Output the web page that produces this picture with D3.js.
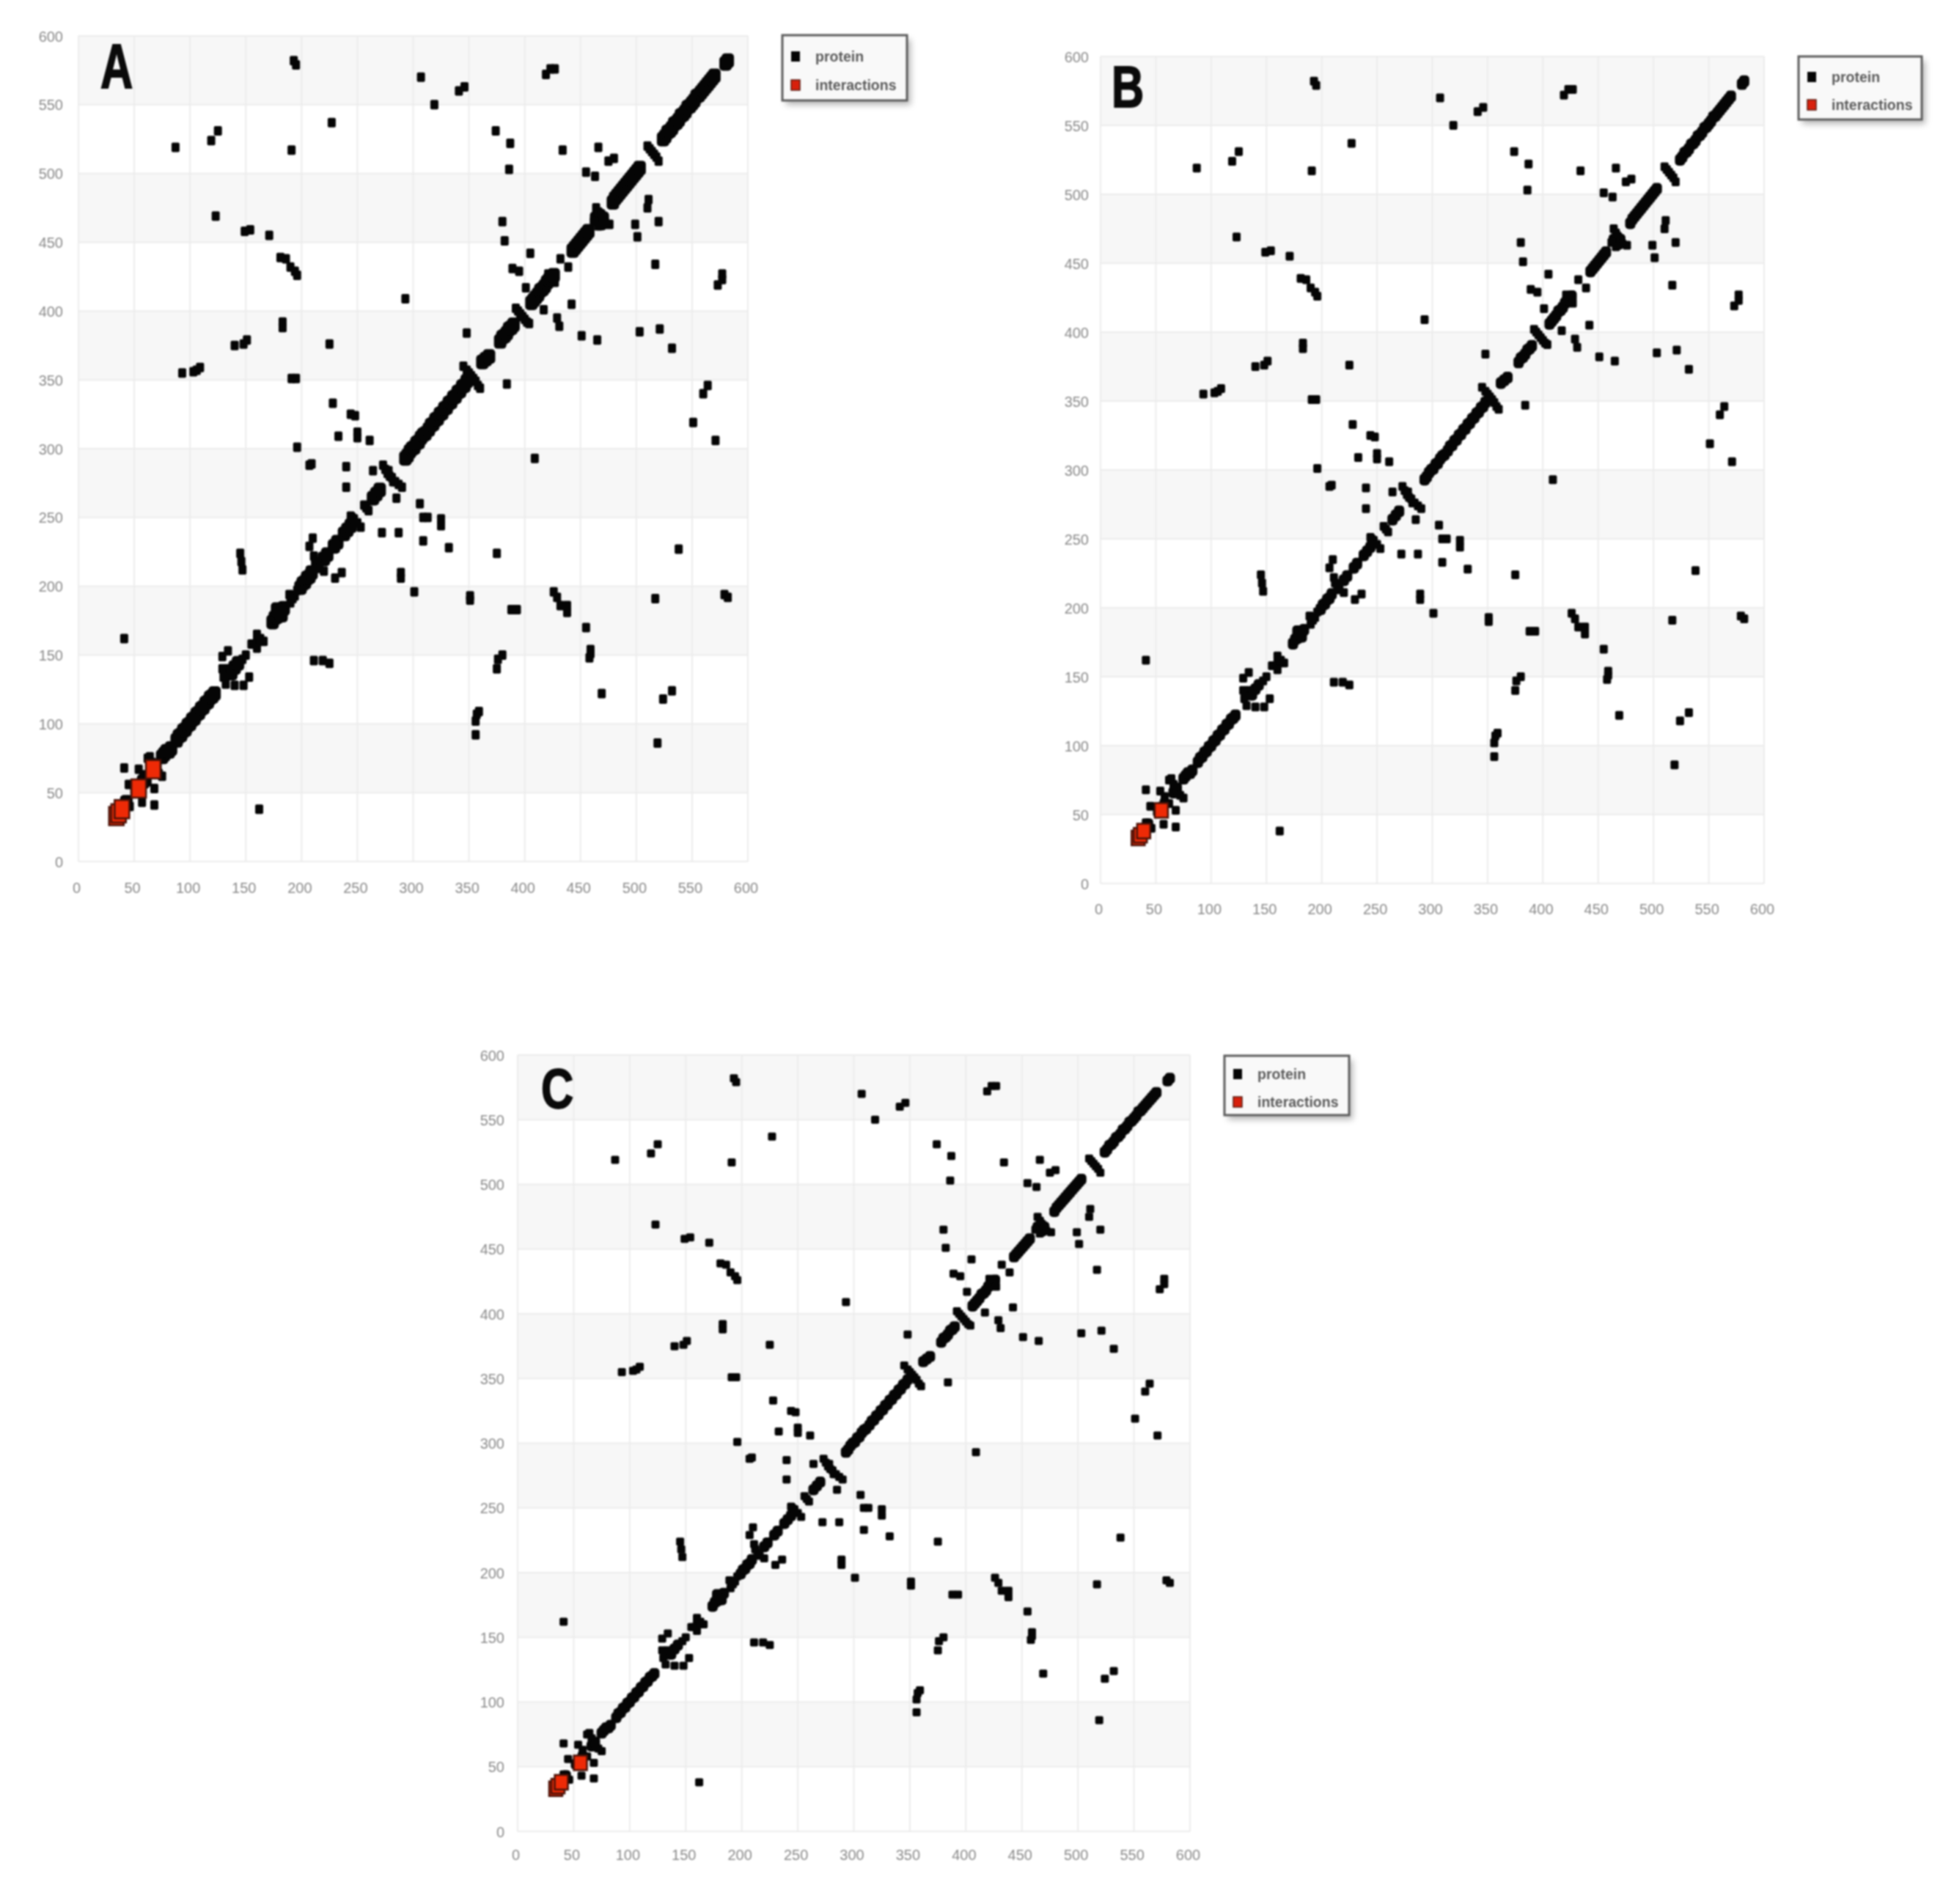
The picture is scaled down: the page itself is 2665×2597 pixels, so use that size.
<!DOCTYPE html>
<html>
<head>
<meta charset="utf-8">
<script src="https://cdn.jsdelivr.net/npm/d3@7/dist/d3.min.js"></script>
<style>
html,body{margin:0;padding:0;background:#fff}
svg{display:block;filter:blur(1px)}
text{font-family:"Liberation Sans",Arial,sans-serif}
</style>
</head>
<body>
<div id="chart"></div>
<script>
// ---- data -----------------------------------------------------------------
const tickValues = [0,50,100,150,200,250,300,350,400,450,500,550,600];
const bandStarts = [50,150,250,350,450,550];
const legendLabels = ["protein","interactions"];
const panelNames = ["A","B","C"];

// thick lumps along the main diagonal
const diagonalLow = [[37,37],[40,40],[43,43],[52,52],[55,55],[58,58],[66,66],[69,69],[75,76],[77,78],[79,80],[81,80],[83,82]];
const diagonalA = [[88,88],[90,91],[92,92],[94,95],[96,96],[98,99],[100,100],[102,103],[104,104],[106,107],[108,108],[110,111],[112,112],[114,115],[116,116],[118,119],[120,120],[122,122]];
const diagonalB = [[137,137],[140,141],[143,144],[174,174],[176,177],[178,178],[180,181],[182,182],[184,184],[178,183],[182,179],[199,199],[201,202],[203,203],[205,206],[207,207],[209,210]];
const diagonalD = [[220,220],[223,223],[229,229],[232,232],[238,238],[241,241],[244,244],[264,264],[267,267],[270,270]];
const diagonalE = [[293,293],[295,295],[297,298],[299,300],[301,301],[303,304],[305,305],[307,308],[309,310],[311,311],[314,314],[316,317],[318,318],[320,321],[322,322],[324,325],[326,326],[328,329],[330,330],[332,333],[334,334],[336,337],[338,338],[340,341],[342,342],[344,345],[346,346],[348,349],
 [362,363],[365,365],[368,367],[378,378],[380,381],[382,382],[384,384],[386,387],[388,388],[390,390]];
const diagonalF = [[406,406],[408,408],[410,410],[412,412],[414,415],[416,416],[418,418],[420,421],[422,423],[424,424],[426,426],
 [443,444],[445,446],[447,448],[449,450],[451,452],[453,454],[455,456],[457,458]];
const diagonalG = [[464,467],[467,469],[470,467],[468,464],[479,479],[481,482],[483,484],[485,486],[487,488],[489,490],[491,492],[493,494],[495,496],[497,498],[499,500],[501,502],[503,504]];
const diagonalH = [[524,525],[526,527],[528,530],[530,531],[532,533],[534,536],[536,537],[538,539],[540,542],[542,543],[544,545],[546,548],[548,549],[550,551],[552,553],[554,556],[556,557],[558,559],[560,561],[562,563],[564,565],[566,567],[568,569],[570,571],
 [580,580],[582,582]];

// thin "\" pieces crossing the diagonal and small clustered marks next to it
const crossings = [[64,76],[66,72],[69,68],[72,64],[134,140],[136,136],[147,147],[157,158],[160,160],[163,162],[160,165],[160,155],[155,158],[166,160],[190,188],[192,191],[194,193],[189,194],[196,197],
 [211,222],[212,218],[214,215],[216,213],[220,211],[244,251],[245,250],[247,249],[250,246],[253,243],[256,259],[258,257],[260,255],
 [273,288],[275,285],[277,282],[279,280],[281,279],[284,276],[287,274],[290,272],[278,284],[282,276],
 [345,360],[348,357],[350,355],[352,353],[354,351],[356,349],[358,346],[360,344],
 [392,402],[394,400],[396,398],[398,396],[400,394],[402,392],[404,391],[421,427],[427,421],
 [464,475],[466,472],[468,469],[470,466],[472,464],[476,463],[462,465],[466,462],
 [510,520],[512,518],[514,516],[516,514],[518,512],[520,509]];

const offUpperLeft = [[41,162],[41,68],[54,67],[62,75],[45,56],[41,44],[58,63],[87,519],[93,355],[103,356],[106,357],[109,359],[119,524],[125,531],[123,469],[140,375],[148,376],[151,379],[134,153],[129,149],[129,140],
 [145,224],[146,218],[147,212],[149,458],[154,459],[171,455],[181,439],[186,438],[190,432],[194,429],[196,426],[183,392],[183,388],[191,517],[191,351],[195,351],[193,582],[195,579],[196,301],[207,288],[209,289],[207,229],[210,235],
 [225,376],[227,537],[228,333],[233,309],[240,287],[240,272],[244,325],[248,324],[250,312],[250,308],[261,306],[264,284],[293,409],[307,570],[319,550],[341,560],[346,563],[348,384],[374,531],[380,465],[382,451],[386,503],[387,522],
 [389,431],[395,429],[401,417],[405,442],[419,572],[423,576],[427,576],[432,438],[434,517],[455,501],[463,498],[466,519],[475,509],[480,511]];
const offLowerRight = [[57,43],[46,40],[62,58],[68,41],[68,53],[75,62],[130,134],[132,129],[140,128],[148,128],[150,150],[153,134],[162,38],[211,146],[219,146],[225,144],[230,206],[236,210],[272,239],[285,264],[287,239],[289,206],[289,210],
 [301,196],[306,260],[309,233],[309,250],[313,250],[325,244],[325,249],[332,228],[351,190],[351,193],[356,92],[356,102],[357,107],[359,109],[375,140],[375,224],[376,147],[380,150],[384,347],[388,183],[393,183],[409,293],
 [417,401],[426,196],[429,192],[429,395],[431,389],[432,186],[438,181],[438,186],[439,432],[442,405],[451,382],[455,170],[458,148],[459,151],[459,154],[465,379],[469,122],[499,463],[501,454],[503,385],[510,475],[511,481],[517,191],[517,434],[519,86],[520,465],[521,387],[524,118],[532,124],[532,373],[538,227],[551,319],[560,340],[564,346],[571,306],[573,419],[577,423],[577,427],[579,194],[582,192]];

const interactionsA = [[34,33],[36,35],[39,38],[54,53],[67,67]];
const interactionsB = [[34,33],[36,35],[39,38],[55,53]];
const interactionsC = [[34,33],[36,35],[39,38],[56,53]];

const lumpPoints = [diagonalLow,diagonalA,diagonalB,diagonalD,diagonalE,diagonalF,diagonalG,diagonalH].flat();
const proteinPoints = [crossings,offUpperLeft,offLowerRight].flat();
const interactionSets = [interactionsA,interactionsB,interactionsC];

// ---- layout ---------------------------------------------------------------
const W = 2665, H = 2597;
const panels = [
 {x0:107,x1:1020,y0:1175,y1:49, mw:11,mh:13,dw:17,dh:20,rw:20,rh:25, labelRight:86, xLab:1211,
  letter:{x:159,y:120,sx:0.72,sy:1.0,fs:85},
  legend:{x:1067,y:48,w:170,h:89,sym:1085,y1:77,y2:116,text:1112}},
 {x0:1501,x1:2406,y0:1205,y1:77, mw:11,mh:12,dw:14,dh:16,rw:18,rh:20, labelRight:1485, xLab:1240,
  letter:{x:1516,y:146,sx:0.72,sy:0.93,fs:85},
  legend:{x:2453,y:77,w:168,h:86,sym:2471,y1:105,y2:143,text:2498}},
 {x0:706,x1:1623,y0:2498,y1:1439, mw:11,mh:11,dw:14,dh:15,rw:18,rh:20, labelRight:688, xLab:2530,
  letter:{x:738,y:1511,sx:0.72,sy:0.9,fs:85},
  legend:{x:1670,y:1440,w:170,h:81,sym:1688,y1:1465,y2:1503,text:1715}}
];

const svg = d3.select("#chart").append("svg").attr("width",W).attr("height",H);
svg.append("rect").attr("width",W).attr("height",H).attr("fill","#fff");
const defs = svg.append("defs");
defs.append("filter").attr("id","shadow").attr("x","-20%").attr("y","-20%").attr("width","140%").attr("height","140%")
  .append("feGaussianBlur").attr("stdDeviation",4);

panels.forEach((p,i)=>{
  const x = d3.scaleLinear().domain([0,600]).range([p.x0,p.x1]);
  const y = d3.scaleLinear().domain([0,600]).range([p.y0,p.y1]);
  const g = svg.append("g");

  g.selectAll("rect.band").data(bandStarts).join("rect").attr("class","band")
    .attr("x",p.x0).attr("width",p.x1-p.x0)
    .attr("y",d=>y(d+50)).attr("height",d=>y(d)-y(d+50))
    .attr("fill","#f7f7f7");
  g.selectAll("line.v").data(tickValues).join("line").attr("class","v")
    .attr("x1",d=>x(d)).attr("x2",d=>x(d)).attr("y1",p.y1).attr("y2",p.y0)
    .attr("stroke","#ececec").attr("stroke-width",2);
  g.selectAll("line.h").data(tickValues).join("line").attr("class","h")
    .attr("y1",d=>y(d)).attr("y2",d=>y(d)).attr("x1",p.x0).attr("x2",p.x1)
    .attr("stroke","#ececec").attr("stroke-width",2);

  const xAxis = d3.axisBottom(x).tickValues(tickValues).tickSize(0).tickPadding(0);
  const yAxis = d3.axisLeft(y).tickValues(tickValues).tickSize(0).tickPadding(0);
  const gx = svg.append("g").attr("transform",`translate(-3,${p.xLab})`).call(xAxis);
  const gy = svg.append("g").attr("transform",`translate(${p.labelRight},0)`).call(yAxis);
  [gx,gy].forEach(a=>{
    a.select(".domain").remove();
    a.selectAll("text").attr("font-size",20).attr("fill","#8a8a8a")
      .attr("font-family",'"Liberation Sans",Arial,sans-serif');
  });
  gx.selectAll("text").attr("dy","0.35em").attr("y",0);
  gy.selectAll("text").attr("dy","0.35em").attr("x",0);

  g.selectAll("rect.lump").data(lumpPoints).join("rect").attr("class","lump")
    .attr("x",d=>x(d[0])-p.dw/2).attr("y",d=>y(d[1])-p.dh/2)
    .attr("width",p.dw).attr("height",p.dh).attr("rx",5).attr("fill","#050505");

  g.selectAll("rect.protein").data(proteinPoints).join("rect").attr("class","protein")
    .attr("x",d=>x(d[0])-p.mw/2).attr("y",d=>y(d[1])-p.mh/2)
    .attr("width",p.mw).attr("height",p.mh).attr("rx",2).attr("fill","#050505");

  g.selectAll("rect.inter").data(interactionSets[i]).join("rect").attr("class","inter")
    .attr("x",d=>x(d[0])-p.rw/2).attr("y",d=>y(d[1])-p.rh/2)
    .attr("width",p.rw).attr("height",p.rh)
    .attr("fill","#ee2a06").attr("stroke","#4a1208").attr("stroke-width",2.5);

  const L = p.letter;
  svg.append("text").text(panelNames[i])
    .attr("transform",`translate(${L.x},${L.y}) scale(${L.sx},${L.sy})`)
    .attr("font-size",L.fs).attr("font-weight","bold").attr("fill","#0a0a0a")
    .attr("stroke","#0a0a0a").attr("stroke-width",2)
    .attr("text-anchor",i===0?"middle":"start");

  const lg = p.legend;
  svg.append("rect").attr("x",lg.x+5).attr("y",lg.y+6).attr("width",lg.w).attr("height",lg.h)
    .attr("fill","#999").attr("opacity",0.7).attr("filter","url(#shadow)");
  svg.append("rect").attr("x",lg.x).attr("y",lg.y).attr("width",lg.w).attr("height",lg.h)
    .attr("fill","#f9f9f9").attr("stroke","#5c5c5c").attr("stroke-width",3);
  const lgY = [lg.y1,lg.y2];
  svg.selectAll(null).data(legendLabels).join("text")
    .attr("x",lg.text).attr("y",(d,k)=>lgY[k]).attr("dy","0.35em")
    .attr("font-size",19.5).attr("font-weight","bold").attr("fill","#5a5a5a").text(d=>d);
  svg.selectAll(null).data(legendLabels).join("rect")
    .attr("x",lg.sym-6).attr("y",(d,k)=>lgY[k]-7).attr("width",12).attr("height",14)
    .attr("fill",(d,k)=>k===0?"#050505":"#d8200c")
    .attr("stroke",(d,k)=>k===0?"none":"#5a1a10").attr("stroke-width",1.5);
});
</script>
</body>
</html>
